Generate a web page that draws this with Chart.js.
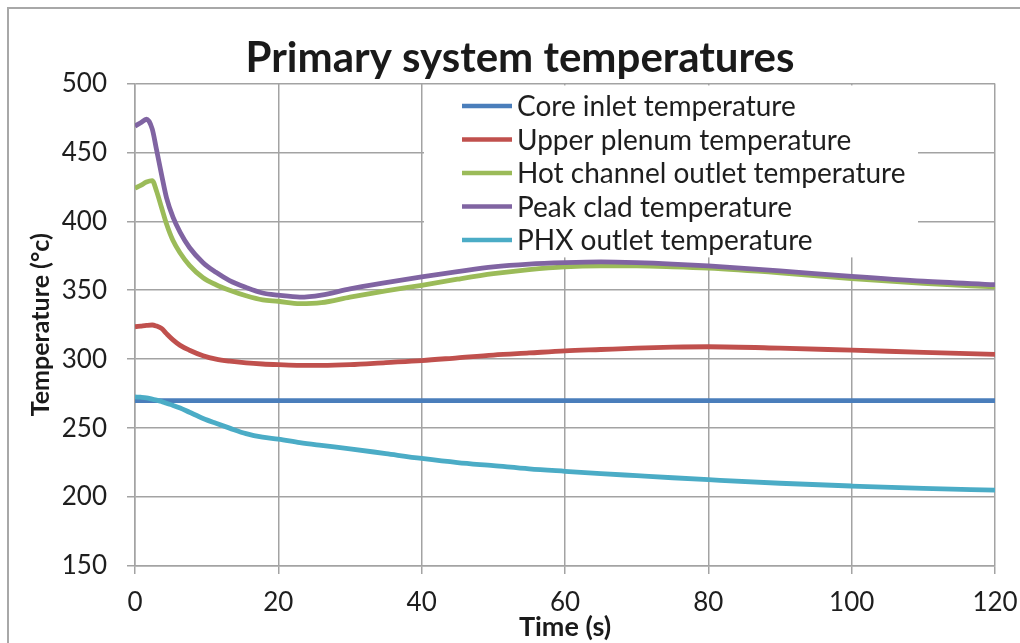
<!DOCTYPE html>
<html>
<head>
<meta charset="utf-8">
<script src="https://cdn.jsdelivr.net/npm/chart.js@4.4.1/dist/chart.umd.min.js"></script>
<style>
  html, body { margin: 0; padding: 0; background: #ffffff; overflow: hidden; }
  #frame { position: absolute; left: 7px; top: 7px; width: 1200px; height: 800px;
           border-left: 2px solid #a8a8a8; border-top: 2px solid #a8a8a8; }
  #c { position: absolute; left: 0; top: 0; }
</style>
</head>
<body>
<div id="frame"></div>
<canvas id="c" width="1020" height="643"></canvas>
<script>
const chartTitle = "Primary system temperatures";
const xTitle = "Time (s)";
const yTitle = "Temperature (°c)";
const seriesNames = ["Core inlet temperature", "Upper plenum temperature", "Hot channel outlet temperature", "Peak clad temperature", "PHX outlet temperature"];
const seriesColors = ["#4A7EBB", "#C0504D", "#9BBB59", "#8064A2", "#4BACC6"];

const times = [0, 0.8, 1.6, 2.4, 3, 3.7, 4.4, 5.3, 6.3, 7.6, 9.5, 11.3, 13.2, 15.5, 17.8, 20, 23, 26, 30, 35, 40, 45, 50, 55, 60, 65, 70, 75, 80, 90, 100, 110, 120];
const coreInlet = [270, 270, 270, 270, 270, 270, 270, 270, 270, 270, 270, 270, 270, 270, 270, 270, 270, 270, 270, 270, 270, 270, 270, 270, 270, 270, 270, 270, 270, 270, 270, 270, 270];
const upperPlenum = [323.5, 324, 324.5, 324.8, 324, 322.3, 318.5, 314, 310, 306.5, 302.5, 300, 298.5, 297.3, 296.5, 296, 295.5, 295.5, 296, 297.5, 299, 301, 303, 304.5, 306, 307, 308, 308.7, 309, 308, 306.5, 305, 303.5];
const hotChannel = [424, 426, 428.5, 429.5, 422, 410, 398, 386, 377, 368, 359, 354, 350, 346, 343, 342, 340.3, 341, 345, 349.5, 353.6, 358, 362, 365, 367, 367.6, 367.6, 367, 366, 362.6, 358.5, 355, 352.4];
const peakClad = [469, 471.5, 474, 467, 452, 434, 417, 403, 392, 381, 370, 363, 357, 352, 348, 346.4, 345, 346.5, 351, 355.5, 359.7, 363.5, 367, 369, 370, 370.5, 370, 369, 367.6, 364, 360, 356.5, 354];
const phxOutlet = [272.6, 272.4, 272, 271, 270.3, 269.3, 268, 266.5, 264.6, 261.5, 257, 253.5, 250, 246, 243.4, 242, 239.5, 237.5, 235, 231.5, 228, 225, 222.8, 220.5, 218.7, 217, 215.5, 214, 212.6, 210, 208, 206.3, 205];

const xTicks = [0, 20, 40, 60, 80, 100, 120];
const yTicks = [150, 200, 250, 300, 350, 400, 450, 500];

const allSeries = [coreInlet, upperPlenum, hotChannel, peakClad, phxOutlet];
const FONT = "Lato, 'Open Sans', sans-serif";
const GRID = "#a3a3a3";

const datasets = allSeries.map((vals, k) => ({
  label: seriesNames[k],
  data: times.map((t, i) => ({ x: t, y: vals[i] })),
  borderColor: seriesColors[k],
  backgroundColor: seriesColors[k],
  borderWidth: 4.8,
  pointRadius: 0,
  cubicInterpolationMode: 'monotone',
  fill: false,
  order: allSeries.length - k
}));

const insideLegend = {
  id: 'insideLegend',
  beforeDatasetsDraw(chart) {
    const ctx = chart.ctx;
    const area = chart.chartArea;
    ctx.save();
    ctx.fillStyle = '#ffffff';
    ctx.fillRect(424, area.top + 2, 494, 172);
    ctx.font = "28px " + FONT;
    ctx.textBaseline = 'middle';
    ctx.textAlign = 'left';
    chart.data.datasets.forEach((ds, i) => {
      const y = 106 + i * 33.5;
      ctx.strokeStyle = ds.borderColor;
      ctx.lineWidth = 4.5;
      ctx.beginPath();
      ctx.moveTo(462, y);
      ctx.lineTo(512, y);
      ctx.stroke();
      ctx.fillStyle = '#1e1e1e';
      ctx.fillText(ds.label, 517, y + 1);
    });
    ctx.restore();
  }
};

new Chart(document.getElementById('c'), {
  type: 'line',
  data: { datasets },
  options: {
    responsive: false,
    animation: false,
    devicePixelRatio: 1,
    layout: { padding: { left: 20, right: 0, top: 0, bottom: 0 } },
    plugins: {
      legend: { display: false },
      tooltip: { enabled: false },
      title: {
        display: true,
        text: chartTitle,
        color: '#1a1a1a',
        font: { family: FONT, size: 42, weight: 'bold', lineHeight: 1.2 },
        padding: { top: 33, bottom: 0 }
      }
    },
    scales: {
      x: {
        type: 'linear',
        min: 0, max: 120,
        afterBuildTicks(scale) { scale.ticks = xTicks.map(v => ({ value: v })); },
        afterFit(scale) { scale.height = 77; scale.paddingRight = 25; },
        ticks: { color: '#1e1e1e', font: { family: FONT, size: 26 }, padding: 13, maxRotation: 0, autoSkip: false },
        grid: { color: GRID, lineWidth: 1.5, tickLength: 8, drawTicks: true },
        border: { color: GRID, width: 1.5 },
        title: { display: true, text: xTitle, color: '#1a1a1a', font: { family: FONT, size: 27, weight: 'bold', lineHeight: 1.2 }, padding: { top: 0, bottom: 0 } }
      },
      y: {
        type: 'linear',
        min: 150, max: 500,
        afterBuildTicks(scale) { scale.ticks = yTicks.map(v => ({ value: v })); },
        afterFit(scale) { scale.width = 115; },
        ticks: { color: '#1e1e1e', font: { family: FONT, size: 26 }, padding: 20, autoSkip: false },
        grid: { color: GRID, lineWidth: 1.5, tickLength: 8, drawTicks: true },
        border: { color: GRID, width: 1.5 },
        title: { display: true, text: yTitle, color: '#1a1a1a', font: { family: FONT, size: 25, weight: 'bold', lineHeight: 1.2 }, padding: { top: 6, bottom: 0 } }
      }
    }
  },
  plugins: [insideLegend]
});
</script>
</body>
</html>
